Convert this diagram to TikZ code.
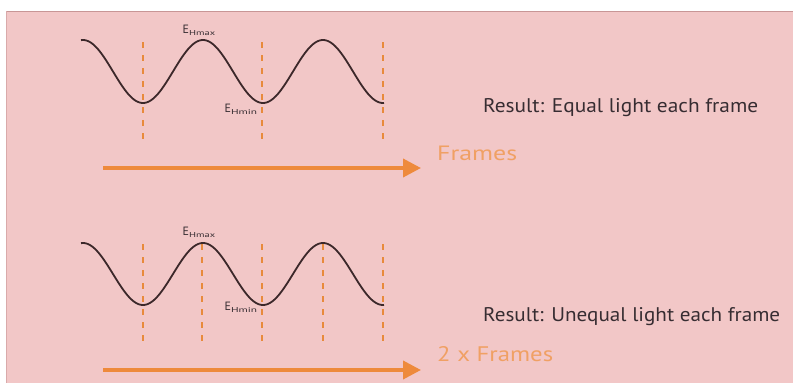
\documentclass[tikz,border=0pt]{standalone}
\usepackage{fontspec}
\usepackage{graphicx}
\setmainfont{PT Sans}
\usetikzlibrary{arrows.meta}
\definecolor{bgpink}{RGB}{242,199,199}
\definecolor{edgepink}{RGB}{200,150,150}
\definecolor{wave}{RGB}{60,40,42}
\definecolor{dashor}{RGB}{232,138,60}
\definecolor{arrowor}{RGB}{238,138,60}
\definecolor{frameor}{RGB}{240,160,100}
\definecolor{restext}{RGB}{55,45,50}
\tikzset{
  wavecurve/.style={draw=wave, line width=1.8pt},
  framedash/.style={draw=dashor, line width=2.6pt, dash pattern=on 6pt off 7pt},
  timearrow/.style={draw=arrowor, line width=3.8pt, -{Triangle[length=18pt,width=18pt]}},
  elabel/.style={inner sep=0pt, text=restext, anchor=base west},
  restxt/.style={inner sep=0pt, text=restext, anchor=base west},
  frtxt/.style={inner sep=0pt, text=frameor, anchor=base west}
}
\newcommand{\Esub}[1]{\fontsize{12}{13}\selectfont E\raisebox{-2.5pt}{\resizebox{26pt}{5pt}{#1}}}
\begin{document}
\begin{tikzpicture}[x=1pt,y=-1pt]
\useasboundingbox (0,0) rectangle (793,383);
\fill[white] (0,0) rectangle (793,383);
\fill[bgpink] (6,11) rectangle (793,383);
\draw[edgepink, line width=0.8pt] (6,11.4) -- (793,11.4);
\draw[edgepink!60!bgpink, line width=0.8pt] (6.4,11) -- (6.4,383);

% top panel
\foreach \x in {143,262,383}{
  \draw[framedash] (\x,42) -- (\x,145);
}
\draw[wavecurve, domain=81:384, samples=200, smooth, variable=\t]
  plot ({\t},{71.5-31.5*cos(3*(\t-83))});
\node[elabel] (emax1) at (182.5,33) {\Esub{Hmax}};
\node[elabel] (emin1) at (224.5,112) {\Esub{Hmin}};
\node[restxt] (res1) at (483,112) {\resizebox{275pt}{14pt}{Result: Equal light each frame}};
\coordinate (a1s) at (103,168);
\coordinate (a1e) at (421,168);
\draw[timearrow] (a1s) -- (a1e);
\node[frtxt] (fr1) at (437,160.5) {\resizebox{80pt}{14.5pt}{Frames}};

% bottom panel
\foreach \x in {143,202,262,323,383}{
  \draw[framedash] (\x,244) -- (\x,347);
}
\draw[wavecurve, domain=81:384, samples=200, smooth, variable=\t]
  plot ({\t},{274-31*cos(3*(\t-83))});
\node[elabel] (emax2) at (182.5,235) {\Esub{Hmax}};
\node[elabel] (emin2) at (224.5,310) {\Esub{Hmin}};
\node[restxt] (res2) at (483,321.5) {\resizebox{297pt}{14pt}{Result: Unequal light each frame}};
\coordinate (a2s) at (103,370);
\coordinate (a2e) at (421,370);
\draw[timearrow] (a2s) -- (a2e);
\node[frtxt] (fr2) at (437,361.5) {\resizebox{116pt}{15pt}{2 x Frames}};
\end{tikzpicture}
\end{document}
